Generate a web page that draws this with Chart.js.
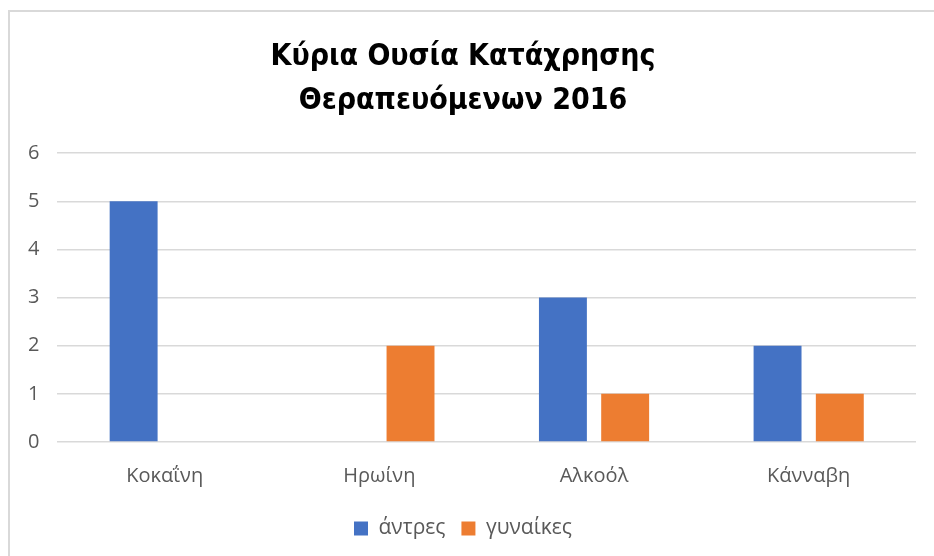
<!DOCTYPE html>
<html><head><meta charset="utf-8">
<script src="https://cdn.jsdelivr.net/npm/chart.js@4"></script>
<style>
html,body{margin:0;padding:0;background:#fff;overflow:hidden}
#wrap{position:relative;width:934px;height:556px}
#frame{position:absolute;left:8px;top:10px;width:1000px;height:1000px;border:2px solid #d9d9d9;pointer-events:none}
</style></head>
<body>
<div id="wrap"><canvas id="c" width="934" height="556"></canvas><div id="frame"></div></div>
<script>
const categories = ['Κοκαΐνη', 'Ηρωίνη', 'Αλκοόλ', 'Κάνναβη'];
const men = [5, 0, 3, 2];
const women = [0, 2, 1, 1];
const seriesNames = ['άντρες', 'γυναίκες'];
const titleLines = ['Κύρια Ουσία Κατάχρησης', 'Θεραπευόμενων 2016'];

new Chart(document.getElementById('c'), {
  type: 'bar',
  data: {
    labels: categories,
    datasets: [
      {label: seriesNames[0], data: men, backgroundColor: '#4472c4', categoryPercentage: 0.58, barPercentage: 0.77},
      {label: seriesNames[1], data: women, backgroundColor: '#ed7d31', categoryPercentage: 0.58, barPercentage: 0.77}
    ]
  },
  options: {
    responsive: false,
    animation: false,
    layout: {padding: {left: 10, right: 18, top: 35, bottom: 7}},
    plugins: {
      title: {display: true, text: titleLines, color: '#000',
        font: {family: "'Liberation Sans Narrow','DejaVu Sans Condensed',sans-serif", size: 30, weight: 'bold', lineHeight: 1.47},
        padding: {top: 0, bottom: 30}},
      legend: {position: 'bottom',
        labels: {color: '#595959', boxWidth: 14, boxHeight: 14, padding: 16,
          font: {family: "'Open Sans',sans-serif", size: 21}}},
      tooltip: {enabled: false}
    },
    scales: {
      x: {grid: {display: false}, border: {display: false},
        ticks: {color: '#595959', padding: 14, font: {family: "'Open Sans',sans-serif", size: 20}}},
      y: {min: 0, max: 6, ticks: {stepSize: 1, color: '#595959', padding: 18, font: {family: "'Open Sans',sans-serif", size: 20}},
        grid: {color: '#d9d9d9', lineWidth: 1.5, drawTicks: false}, border: {display: false}}
    }
  }
});
</script>
</body></html>
